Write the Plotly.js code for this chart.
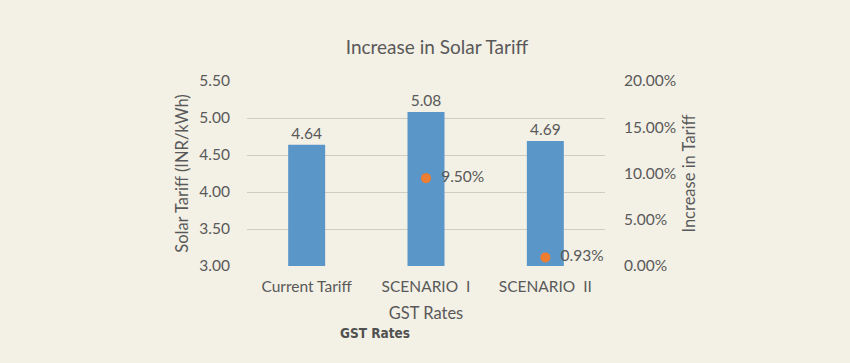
<!DOCTYPE html>
<html><head><meta charset="utf-8">
<script src="https://cdn.plot.ly/plotly-3.0.1.min.js"></script>
<style>html,body{margin:0;padding:0;background:#f3f0e5;}</style>
</head><body>
<div id="chart" style="width:850px;height:363px;"></div>
<script>
const categories = ["Current Tariff", "SCENARIO\u00a0\u00a0I", "SCENARIO\u00a0\u00a0II"];
const tariff = [4.64, 5.08, 4.69];
const increaseCats = ["SCENARIO\u00a0\u00a0I", "SCENARIO\u00a0\u00a0II"];
const increase = [0.095, 0.0093];
const leftTicks = [3.0, 3.5, 4.0, 4.5, 5.0, 5.5];
const rightTicks = [0, 0.05, 0.10, 0.15, 0.20];

const FONT = "Lato, 'Open Sans', sans-serif";
const GRAY = "#595959";
const BG = "#f3f0e5";

const traces = [
  {
    type: "bar", x: categories, y: tariff,
    marker: {color: "#5b96c8"},
    width: 0.31,
    text: tariff.map(v => v.toFixed(2)),
    textposition: "outside", cliponaxis: false,
    textfont: {family: FONT, size: 15.5, color: GRAY},
    hoverinfo: "none", showlegend: false
  },
  {
    type: "scatter", mode: "markers+text", x: increaseCats, y: increase, yaxis: "y2",
    marker: {color: "#ed7d31", size: 10},
    text: increase.map(v => "\u00a0\u00a0" + (v*100).toFixed(2) + "%"),
    textposition: "middle right",
    textfont: {family: FONT, size: 15.5, color: GRAY},
    cliponaxis: false, hoverinfo: "none", showlegend: false
  }
];

const layout = {
  width: 850, height: 363,
  paper_bgcolor: BG, plot_bgcolor: BG,
  margin: {l: 247, r: 245, t: 81, b: 97},
  font: {family: FONT, color: GRAY, size: 15.5},
  title: {text: "Increase in Solar Tariff", x: 0.514, xanchor: "center", y: 0.87, yanchor: "middle",
          font: {family: FONT, size: 19, color: GRAY}},
  xaxis: {
    type: "category", showgrid: false, zeroline: false, showline: false,
    ticks: "outside", ticklen: 6, tickcolor: "rgba(0,0,0,0)",
    tickfont: {family: FONT, size: 15.5, color: GRAY},
    title: {text: "GST Rates", font: {family: FONT, size: 16.5, color: GRAY}, standoff: 13}
  },
  yaxis: {
    range: [3.0, 5.5], tickvals: leftTicks, ticktext: leftTicks.map(v => v.toFixed(2)),
    showgrid: true, gridcolor: "#cfccc3", gridwidth: 1, zeroline: false, showline: false,
    ticks: "outside", ticklen: 13, tickcolor: "rgba(0,0,0,0)",
    tickfont: {family: FONT, size: 15.5, color: GRAY},
    title: {text: "Solar Tariff (INR/kWh)", font: {family: FONT, size: 16.5, color: GRAY}, standoff: 6}
  },
  yaxis2: {
    overlaying: "y", side: "right",
    range: [0, 0.20], tickvals: rightTicks, ticktext: rightTicks.map(v => (v*100).toFixed(2) + "%"),
    showgrid: false, zeroline: false, showline: false,
    ticks: "outside", ticklen: 15, tickcolor: "rgba(0,0,0,0)",
    tickfont: {family: FONT, size: 15.5, color: GRAY},
    title: {text: "Increase in Tariff", font: {family: FONT, size: 16.5, color: GRAY}, standoff: 8}
  },
  annotations: [
    {text: "<b>GST Rates</b>", xref: "paper", yref: "paper", x: 0.358, y: -0.362,
     xanchor: "center", yanchor: "middle", showarrow: false,
     font: {family: "'Liberation Sans Narrow', 'DejaVu Sans Condensed', sans-serif", size: 13.5, color: "#505050"}}
  ]
};

Plotly.newPlot("chart", traces, layout, {staticPlot: true, displayModeBar: false});
</script>
</body></html>
